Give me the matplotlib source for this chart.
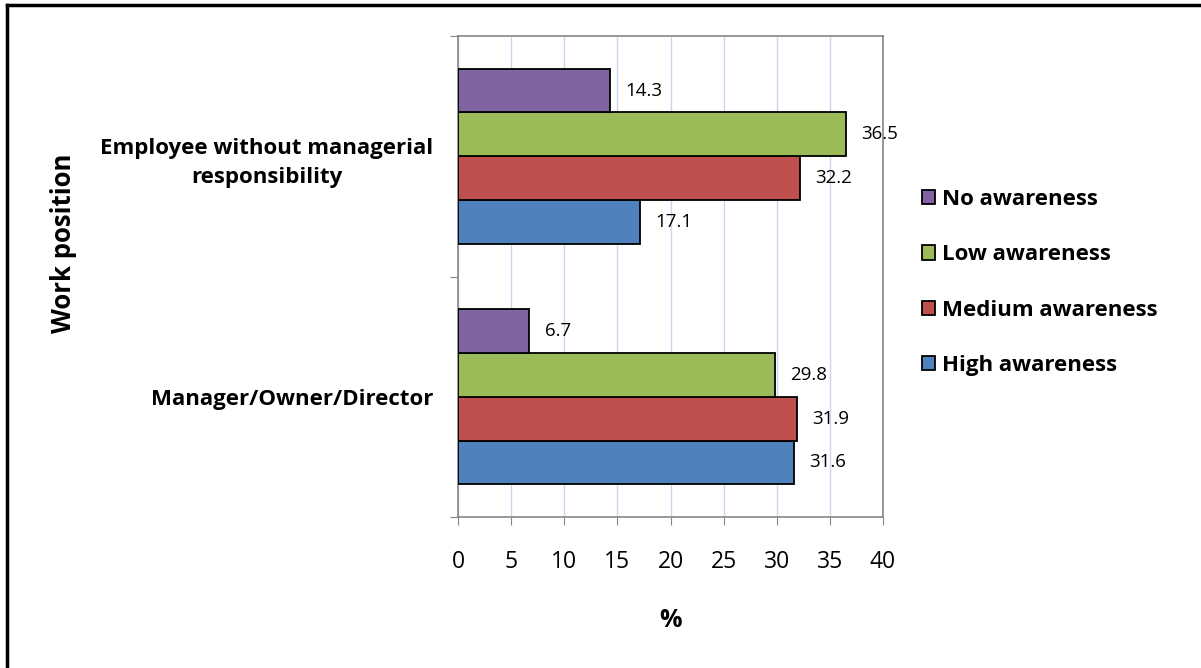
import matplotlib.pyplot as plt
import numpy as np
from matplotlib.lines import Line2D

# dati
positions = ["Manager/Owner/Director", "Employee without managerial\nresponsibility"]
series = ["High awareness", "Medium awareness", "Low awareness", "No awareness"]
high = [31.6, 17.1]
medium = [31.9, 32.2]
low = [29.8, 36.5]
no_aw = [6.7, 14.3]
colors = ["#4F81BD", "#C0504D", "#9BBB59", "#8064A2"]
xticks = [0, 5, 10, 15, 20, 25, 30, 35, 40]

plt.rcParams["font.family"] = ["Open Sans", "DejaVu Sans"]

fig = plt.figure(figsize=(12.01, 6.68), dpi=100)
ax = fig.add_axes([0.3814, 0.226, 0.3538, 0.7201])

h = 0.182
y = np.arange(len(positions))
bars = []
for i, (vals, col) in enumerate(zip([high, medium, low, no_aw], colors)):
    b = ax.barh(y + (i - 1.5) * h, vals, height=h, color=col,
                edgecolor="black", linewidth=1.3, label=series[i], zorder=3)
    bars.append(b)
    for rect, v in zip(b, vals):
        ax.annotate(f"{v}", (rect.get_width(), rect.get_y() + rect.get_height() / 2),
                    xytext=(11, 0), textcoords="offset points", ha="left",
                    va="center", fontsize=13.5, zorder=4)

ax.set_xlim(0, 40)
ax.set_ylim(-0.5, 1.5)
ax.set_xticks(xticks)
ax.set_xticklabels([str(t) for t in xticks], fontsize=16.5)
ax.set_yticks([-0.5, 0.5, 1.5])
ax.set_yticklabels([])
ax.set_yticks(y, minor=True)
ax.set_yticklabels(positions, minor=True, fontsize=16, fontweight="bold",
                   multialignment="center", linespacing=1.5)
ax.tick_params(axis="y", which="minor", length=0, pad=18)
ax.tick_params(axis="y", which="major", length=6, color="#868686", direction="out")
ax.tick_params(axis="x", length=6, color="#868686", direction="out", pad=18)
ax.grid(axis="x", color="#c9d6ec", linewidth=1, zorder=0)
for s in ax.spines.values():
    s.set_color("#868686")
    s.set_linewidth(1.2)

ax.set_xlabel("%", fontsize=18, fontweight="bold", labelpad=24)
fig.text(0.053, 0.636, "Work position", rotation=90, fontsize=18.5,
         fontweight="bold", ha="center", va="center")

handles = [bars[3], bars[2], bars[1], bars[0]]
leg = fig.legend(handles, [series[3], series[2], series[1], series[0]],
                 loc="center left", bbox_to_anchor=(0.751, 0.577), frameon=False,
                 prop={"size": 16, "weight": "bold"}, handlelength=0.6,
                 handleheight=0.6, handletextpad=0.3, labelspacing=1.55)

# cornice esterna
fig.add_artist(Line2D([0.0058, 0.0058], [0, 0.9925], color="black", linewidth=2.5,
                      transform=fig.transFigure))
fig.add_artist(Line2D([0.0058, 1.0], [0.9925, 0.9925], color="black", linewidth=2.5,
                      transform=fig.transFigure))

fig.savefig("out.png", dpi=100)
